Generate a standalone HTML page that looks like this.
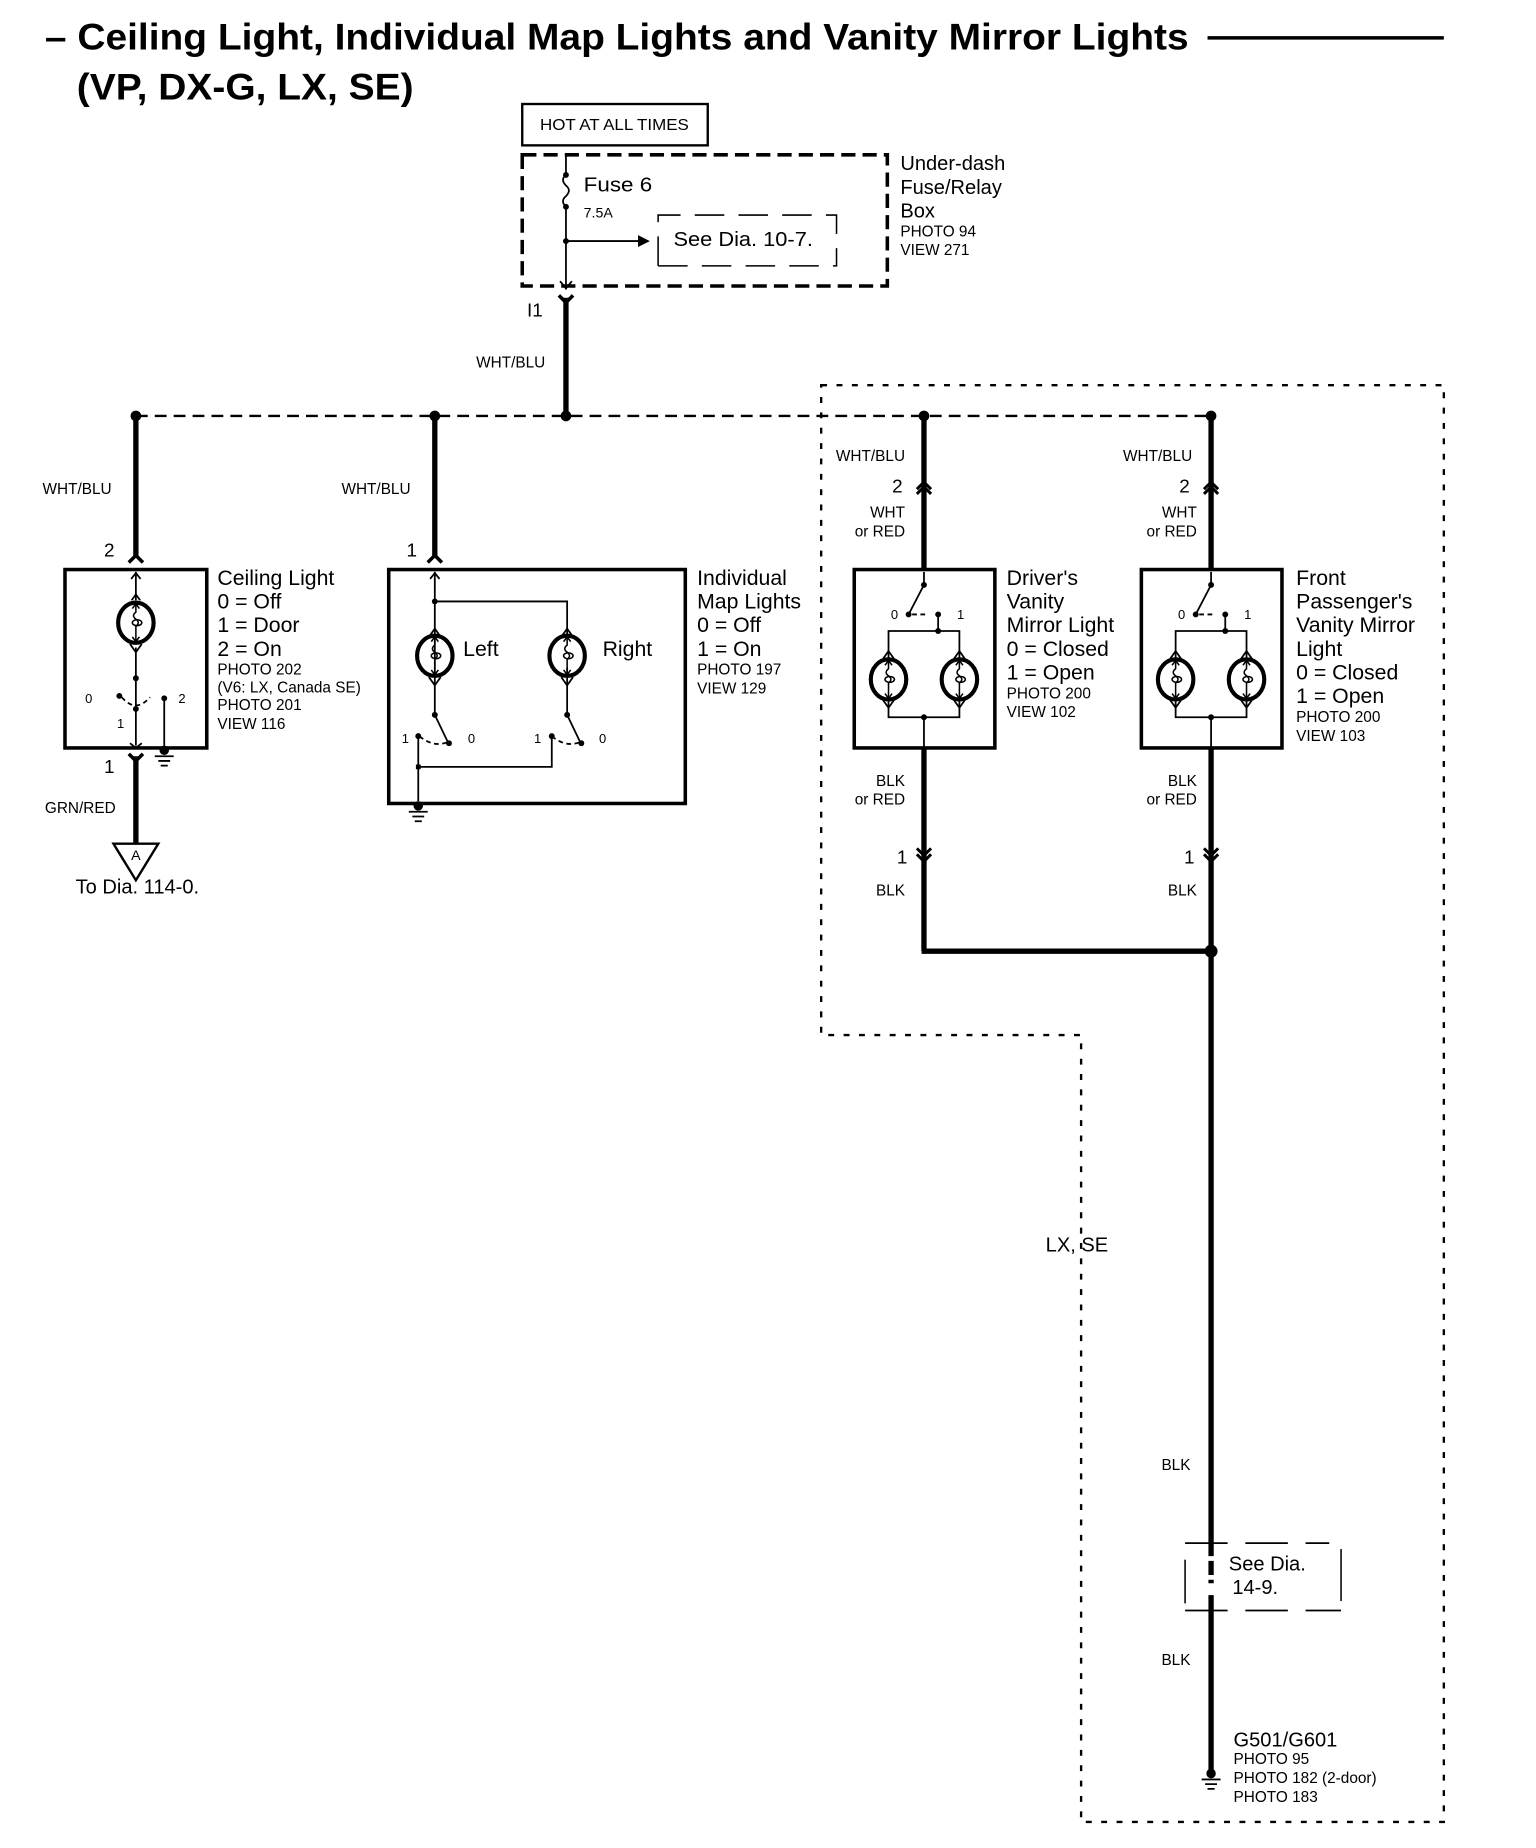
<!DOCTYPE html>
<html><head><meta charset="utf-8"><style>
html,body{margin:0;padding:0;background:#fff}
svg{display:block}
text{font-family:"Liberation Sans",sans-serif;fill:#000}
</style></head><body>
<svg width="1536" height="1848" viewBox="0 0 1300 1564" xmlns="http://www.w3.org/2000/svg">
<defs>
<g id="bulb">
 <ellipse cx="0" cy="0" rx="15" ry="17" fill="none" stroke="#000" stroke-width="3.5"/>
 <path d="M0,-15 v6 q-4,3 0,6 q4,3 0,6 v12" fill="none" stroke="#000" stroke-width="1.3"/>
 <path d="M-3,-12 L0,-16 L3,-12 M-3,12 L0,16 L3,12" fill="none" stroke="#000" stroke-width="1.3"/>
 <ellipse cx="1" cy="0" rx="4" ry="2.5" fill="none" stroke="#000" stroke-width="1.3"/>
</g>
<g id="vopen"><path d="M-5,5 L0,-2 L5,5" fill="none" stroke="#000" stroke-width="1.5"/></g>
<g id="vdown"><path d="M-5,-5 L0,2 L5,-5" fill="none" stroke="#000" stroke-width="1.5"/></g>
<g id="gnd"><circle cx="0" cy="-3" r="4"/><path d="M-8,2 h16 M-5,6 h10 M-3,10 h6" stroke="#000" stroke-width="1.5"/></g>
</defs>

<!-- Title -->
<text x="38" y="42" font-size="31" font-weight="bold" textLength="968" lengthAdjust="spacingAndGlyphs">– Ceiling Light, Individual Map Lights and Vanity Mirror Lights</text>
<line x1="1022" y1="32" x2="1222" y2="32" stroke="#000" stroke-width="3"/>
<text x="65" y="84" font-size="31" font-weight="bold" textLength="285" lengthAdjust="spacingAndGlyphs">(VP, DX-G, LX, SE)</text>

<!-- Hot at all times -->
<rect x="442" y="88" width="157" height="35" fill="none" stroke="#000" stroke-width="2"/>
<text x="520" y="110" font-size="13" text-anchor="middle" textLength="126" lengthAdjust="spacingAndGlyphs">HOT AT ALL TIMES</text>

<!-- Fuse box -->
<rect x="442" y="131" width="309" height="111" fill="none" stroke="#000" stroke-width="3" stroke-dasharray="12,6"/>
<g stroke="#000" stroke-width="1.5" fill="none">
 <line x1="479" y1="131" x2="479" y2="148"/>
 <path d="M479,148 q-5,4 0,9 q5,4 0,9 q-5,4 0,9"/>
 <line x1="479" y1="175" x2="479" y2="245"/>
 <line x1="479" y1="204" x2="540" y2="204"/>
 <path d="M474,238 L479,244 L484,238"/>
</g>
<polygon points="540,199 550,204 540,209"/>
<circle cx="479" cy="148" r="2.5"/><circle cx="479" cy="175" r="2.5"/><circle cx="479" cy="204" r="2.5"/>
<text x="494" y="162" font-size="17" textLength="58" lengthAdjust="spacingAndGlyphs">Fuse 6</text>
<text x="494" y="184" font-size="12">7.5A</text>
<path d="M557,225 V182 H708 V212" fill="none" stroke="#000" stroke-width="1.3" stroke-dasharray="25,12"/>
<path d="M557,225 H708 V212" fill="none" stroke="#000" stroke-width="1.3" stroke-dasharray="25,12"/>
<text x="570" y="208" font-size="17" textLength="118" lengthAdjust="spacingAndGlyphs">See Dia. 10-7.</text>
<text font-size="17"><tspan x="762" y="144">Under-dash</tspan><tspan x="762" y="164">Fuse/Relay</tspan><tspan x="762" y="184">Box</tspan></text>
<text font-size="13"><tspan x="762" y="200">PHOTO 94</tspan><tspan x="762" y="216">VIEW 271</tspan></text>
<text x="446" y="268" font-size="16" font-family="Liberation Mono,monospace">I1</text>
<path d="M473,250 L479,256 L485,250" fill="none" stroke="#000" stroke-width="3"/>
<line x1="479" y1="252" x2="479" y2="352" stroke="#000" stroke-width="4.5"/>
<text x="403" y="311" font-size="13">WHT/BLU</text>

<!-- Bus -->
<line x1="115" y1="352" x2="1025" y2="352" stroke="#000" stroke-width="2" stroke-dasharray="10,6"/>
<g><circle cx="115" cy="352" r="4.5"/><circle cx="368" cy="352" r="4.5"/><circle cx="479" cy="352" r="4.5"/><circle cx="782" cy="352" r="4.5"/><circle cx="1025" cy="352" r="4.5"/></g>

<!-- Vanity outline -->
<path d="M695,326 H1222 V1542 H915 V876 H695 Z" fill="none" stroke="#000" stroke-width="2" stroke-dasharray="5,8"/>

<!-- Ceiling Light -->
<line x1="115" y1="352" x2="115" y2="472" stroke="#000" stroke-width="4.5"/>
<path d="M109,476 L115,470 L121,476" fill="none" stroke="#000" stroke-width="3"/>
<text x="36" y="418" font-size="13">WHT/BLU</text>
<text x="88" y="471" font-size="16">2</text>
<rect x="55" y="482" width="120" height="151" fill="none" stroke="#000" stroke-width="3"/>
<g stroke="#000" stroke-width="1.5" fill="none">
 <line x1="115" y1="484" x2="115" y2="631"/>
 <path d="M111,490 L115,485 L119,490"/>
 <path d="M110,629 L115,633 L120,629"/>
 <path d="M103,590 q12,14 24,0" stroke-dasharray="4,3"/>
 <line x1="139" y1="591" x2="139" y2="633"/>
</g>
<use href="#vopen" x="115" y="505"/>
<rect x="98" y="508" width="34" height="40" fill="#fff"/>
<use href="#bulb" x="115" y="527"/>
<use href="#vdown" x="115" y="550"/>
<circle cx="115" cy="574" r="2.5"/><circle cx="101" cy="589" r="2.5"/><circle cx="115" cy="600" r="2.5"/><circle cx="139" cy="591" r="2.5"/>
<text x="72" y="595" font-size="11">0</text><text x="151" y="595" font-size="11">2</text><text x="99" y="616" font-size="11">1</text>
<use href="#gnd" x="139" y="638"/>
<text font-size="18"><tspan x="184" y="495">Ceiling Light</tspan><tspan x="184" y="515">0 = Off</tspan><tspan x="184" y="535">1 = Door</tspan><tspan x="184" y="555">2 = On</tspan></text>
<text font-size="13"><tspan x="184" y="571">PHOTO 202</tspan><tspan x="184" y="586">(V6: LX, Canada SE)</tspan><tspan x="184" y="601">PHOTO 201</tspan><tspan x="184" y="617">VIEW 116</tspan></text>
<text x="88" y="654" font-size="16">1</text>
<path d="M109,638 L115,644 L121,638" fill="none" stroke="#000" stroke-width="3"/>
<line x1="115" y1="640" x2="115" y2="715" stroke="#000" stroke-width="4.5"/>
<text x="38" y="688" font-size="13">GRN/RED</text>
<polygon points="96,714 134,714 115,745" fill="#fff" stroke="#000" stroke-width="2"/>
<text x="115" y="728" font-size="12" text-anchor="middle">A</text>
<text x="64" y="756" font-size="17">To Dia. 114-0.</text>

<!-- Map Lights -->
<line x1="368" y1="352" x2="368" y2="472" stroke="#000" stroke-width="4.5"/>
<path d="M362,476 L368,470 L374,476" fill="none" stroke="#000" stroke-width="3"/>
<text x="289" y="418" font-size="13">WHT/BLU</text>
<text x="344" y="471" font-size="16">1</text>
<rect x="329" y="482" width="251" height="198" fill="none" stroke="#000" stroke-width="3"/>
<g stroke="#000" stroke-width="1.5" fill="none">
 <line x1="368" y1="484" x2="368" y2="605"/>
 <path d="M364,490 L368,485 L372,490"/>
 <path d="M368,509 H480 V538"/>
 <line x1="480" y1="565" x2="480" y2="605"/>
 <line x1="368" y1="605" x2="379" y2="628"/>
 <line x1="480" y1="605" x2="491" y2="628"/>
 <path d="M355,623 q12,10 24,5" stroke-dasharray="4,3"/>
 <path d="M467,623 q12,10 24,5" stroke-dasharray="4,3"/>
 <path d="M354,623 V678 M354,649 H467 V623"/>
</g>
<use href="#vopen" x="368" y="534"/><use href="#vopen" x="480" y="534"/>
<use href="#bulb" x="368" y="555"/><use href="#bulb" x="480" y="555"/>
<use href="#vdown" x="368" y="578"/><use href="#vdown" x="480" y="578"/>
<circle cx="368" cy="509" r="2.5"/><circle cx="368" cy="605" r="2.5"/><circle cx="480" cy="605" r="2.5"/>
<circle cx="380" cy="629" r="2.5"/><circle cx="492" cy="629" r="2.5"/><circle cx="354" cy="623" r="2.5"/><circle cx="467" cy="623" r="2.5"/>
<rect x="352" y="647" width="4" height="4"/>
<text x="340" y="629" font-size="11">1</text><text x="396" y="629" font-size="11">0</text>
<text x="452" y="629" font-size="11">1</text><text x="507" y="629" font-size="11">0</text>
<use href="#gnd" x="354" y="685"/>
<text x="392" y="555" font-size="18">Left</text><text x="510" y="555" font-size="18">Right</text>
<text font-size="18"><tspan x="590" y="495">Individual</tspan><tspan x="590" y="515">Map Lights</tspan><tspan x="590" y="535">0 = Off</tspan><tspan x="590" y="555">1 = On</tspan></text>
<text font-size="13"><tspan x="590" y="571">PHOTO 197</tspan><tspan x="590" y="587">VIEW 129</tspan></text>

<!-- Driver's Vanity -->
<line x1="782" y1="352" x2="782" y2="482" stroke="#000" stroke-width="4.5"/>
<path d="M776,414 L782,408 L788,414 M776,418 L782,412 L788,418" fill="none" stroke="#000" stroke-width="2.5"/>
<text x="766" y="390" font-size="13" text-anchor="end">WHT/BLU</text>
<text x="764" y="417" font-size="16" text-anchor="end">2</text>
<text x="766" y="438" font-size="13" text-anchor="end">WHT</text>
<text x="766" y="454" font-size="13" text-anchor="end">or RED</text>
<rect x="723" y="482" width="119" height="151" fill="none" stroke="#000" stroke-width="3"/>
<g stroke="#000" stroke-width="1.5" fill="none">
 <line x1="782" y1="484" x2="782" y2="495"/>
 <line x1="782" y1="495" x2="769" y2="520"/>
 <path d="M772,520 h14" stroke-dasharray="4,3"/>
 <path d="M794,520 V534 M752,558 V534 H812 V558"/>
 <path d="M752,592 V607 H812 V592 M782,607 V633"/>
</g>
<use href="#vopen" x="752" y="553"/><use href="#vopen" x="812" y="553"/>
<use href="#bulb" x="752" y="575"/><use href="#bulb" x="812" y="575"/>
<use href="#vdown" x="752" y="597"/><use href="#vdown" x="812" y="597"/>
<circle cx="782" cy="495" r="2.5"/><circle cx="769" cy="520" r="2.5"/><circle cx="794" cy="520" r="2.5"/><circle cx="794" cy="534" r="2.5"/><circle cx="782" cy="607" r="2.5"/>
<text x="754" y="524" font-size="11">0</text><text x="810" y="524" font-size="11">1</text>
<text font-size="18"><tspan x="852" y="495">Driver's</tspan><tspan x="852" y="515">Vanity</tspan><tspan x="852" y="535">Mirror Light</tspan><tspan x="852" y="555">0 = Closed</tspan><tspan x="852" y="575">1 = Open</tspan></text>
<text font-size="13"><tspan x="852" y="591">PHOTO 200</tspan><tspan x="852" y="607">VIEW 102</tspan></text>
<line x1="782" y1="633" x2="782" y2="805" stroke="#000" stroke-width="4.5"/>
<path d="M776,718 L782,724 L788,718 M776,723 L782,729 L788,723" fill="none" stroke="#000" stroke-width="2.5"/>
<text x="766" y="665" font-size="13" text-anchor="end">BLK</text>
<text x="766" y="681" font-size="13" text-anchor="end">or RED</text>
<text x="768" y="731" font-size="16" text-anchor="end">1</text>
<text x="766" y="758" font-size="13" text-anchor="end">BLK</text>
<line x1="780" y1="805" x2="1025" y2="805" stroke="#000" stroke-width="4.5"/>

<!-- Passenger Vanity -->
<line x1="1025" y1="352" x2="1025" y2="482" stroke="#000" stroke-width="4.5"/>
<path d="M1019,414 L1025,408 L1031,414 M1019,418 L1025,412 L1031,418" fill="none" stroke="#000" stroke-width="2.5"/>
<text x="1009" y="390" font-size="13" text-anchor="end">WHT/BLU</text>
<text x="1007" y="417" font-size="16" text-anchor="end">2</text>
<text x="1013" y="438" font-size="13" text-anchor="end">WHT</text>
<text x="1013" y="454" font-size="13" text-anchor="end">or RED</text>
<rect x="966" y="482" width="119" height="151" fill="none" stroke="#000" stroke-width="3"/>
<g stroke="#000" stroke-width="1.5" fill="none">
 <line x1="1025" y1="484" x2="1025" y2="495"/>
 <line x1="1025" y1="495" x2="1012" y2="520"/>
 <path d="M1015,520 h14" stroke-dasharray="4,3"/>
 <path d="M1037,520 V534 M995,558 V534 H1055 V558"/>
 <path d="M995,592 V607 H1055 V592 M1025,607 V633"/>
</g>
<use href="#vopen" x="995" y="553"/><use href="#vopen" x="1055" y="553"/>
<use href="#bulb" x="995" y="575"/><use href="#bulb" x="1055" y="575"/>
<use href="#vdown" x="995" y="597"/><use href="#vdown" x="1055" y="597"/>
<circle cx="1025" cy="495" r="2.5"/><circle cx="1012" cy="520" r="2.5"/><circle cx="1037" cy="520" r="2.5"/><circle cx="1037" cy="534" r="2.5"/><circle cx="1025" cy="607" r="2.5"/>
<text x="997" y="524" font-size="11">0</text><text x="1053" y="524" font-size="11">1</text>
<text font-size="18"><tspan x="1097" y="495">Front</tspan><tspan x="1097" y="515">Passenger's</tspan><tspan x="1097" y="535">Vanity Mirror</tspan><tspan x="1097" y="555">Light</tspan><tspan x="1097" y="575">0 = Closed</tspan><tspan x="1097" y="595">1 = Open</tspan></text>
<text font-size="13"><tspan x="1097" y="611">PHOTO 200</tspan><tspan x="1097" y="627">VIEW 103</tspan></text>
<line x1="1025" y1="633" x2="1025" y2="1305" stroke="#000" stroke-width="4.5"/>
<path d="M1019,718 L1025,724 L1031,718 M1019,723 L1025,729 L1031,723" fill="none" stroke="#000" stroke-width="2.5"/>
<text x="1013" y="665" font-size="13" text-anchor="end">BLK</text>
<text x="1013" y="681" font-size="13" text-anchor="end">or RED</text>
<text x="1011" y="731" font-size="16" text-anchor="end">1</text>
<text x="1013" y="758" font-size="13" text-anchor="end">BLK</text>
<circle cx="1025" cy="805" r="5.5"/>

<text x="885" y="1059" font-size="17">LX, SE</text>
<text x="983" y="1244" font-size="13">BLK</text>
<!-- See Dia 14-9 -->
<line x1="1025" y1="1305" x2="1025" y2="1340" stroke="#000" stroke-width="4.5" stroke-dasharray="12,4"/>
<line x1="1025" y1="1350" x2="1025" y2="1498" stroke="#000" stroke-width="4.5"/>
<path d="M1003,1306 H1125 M1003,1363 H1135" fill="none" stroke="#000" stroke-width="1.5" stroke-dasharray="36,15"/>
<line x1="1003" y1="1320" x2="1003" y2="1357" stroke="#000" stroke-width="1.3"/>
<line x1="1135" y1="1311" x2="1135" y2="1355" stroke="#000" stroke-width="1.3"/>
<text x="1040" y="1329" font-size="17">See Dia.</text>
<text x="1043" y="1349" font-size="17">14-9.</text>
<text x="983" y="1409" font-size="13">BLK</text>
<use href="#gnd" x="1025" y="1504"/>
<text x="1044" y="1478" font-size="17">G501/G601</text>
<text font-size="13"><tspan x="1044" y="1493">PHOTO 95</tspan><tspan x="1044" y="1509">PHOTO 182 (2-door)</tspan><tspan x="1044" y="1525">PHOTO 183</tspan></text>
</svg>
</body></html>
